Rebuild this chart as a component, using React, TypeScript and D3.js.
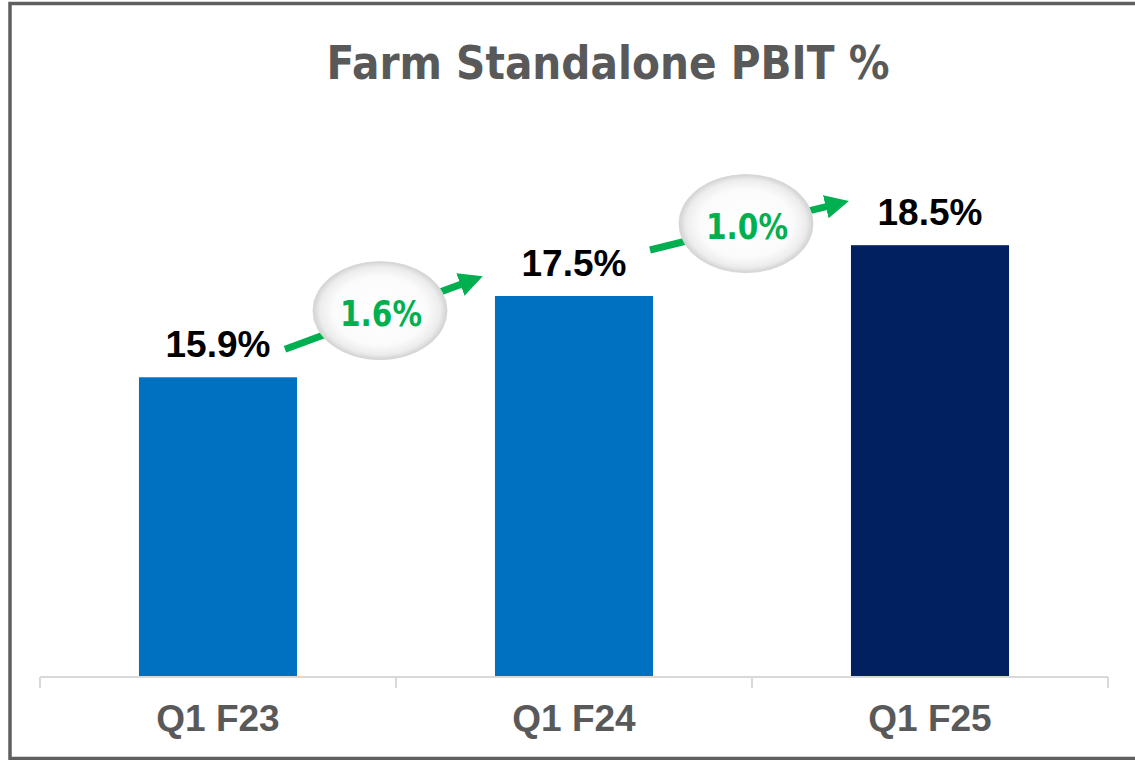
import React from "react";
import * as d3 from "d3";

const categories = ["Q1 F23", "Q1 F24", "Q1 F25"];
const values = [15.9, 17.5, 18.5];
const barColors = ["#0070C0", "#0070C0", "#002060"];
const title = "Farm Standalone PBIT %";
const yDomain = [10, 20];

const W = 1135;
const H = 760;

export default function App() {
  const x = d3.scaleBand<string>().domain(categories).range([40, 1108]).padding(0);
  const y = d3.scaleLinear().domain(yDomain).range([677, 169]);
  const barW = x.bandwidth() * 0.444;
  const cx = (c: string) => (x(c) as number) + x.bandwidth() / 2;
  const green = "#00B050";

  // arrows / callouts between consecutive bars
  const arrowSpecs = [
    { sx: 67, sy: -28, ex: -96, ey: -18, ox: -16, oy: -26 },
    { sx: 76, sy: -46, ex: -86, ey: -43, ox: -6, oy: -47 },
  ];

  const deltas = values.slice(1).map((v, i) => {
    const c0 = cx(categories[i]);
    const c1 = cx(categories[i + 1]);
    const y0 = y(values[i]);
    const y1 = y(values[i + 1]);
    const s = arrowSpecs[i];
    return {
      label: (v - values[i]).toFixed(1) + "%",
      x1: c0 + s.sx,
      y1: y0 + s.sy,
      x2: c1 + s.ex,
      y2: y1 + s.ey,
      ex: (c0 + c1) / 2 + s.ox,
      ey: (y0 + y1) / 2 + s.oy,
    };
  });

  const ticks = [...categories.map((c) => x(c) as number), 1108];

  return (
    <svg
      width={W}
      height={H}
      style={{ position: "absolute", left: 0, top: 0, background: "#fff" }}
    >
      <defs>
        <radialGradient id="ellG" cx="50%" cy="50%" r="50%">
          <stop offset="0%" stopColor="#ffffff" />
          <stop offset="70%" stopColor="#fbfbfb" />
          <stop offset="90%" stopColor="#ececec" />
          <stop offset="100%" stopColor="#d2d2d2" />
        </radialGradient>
        <marker
          id="arrowHead"
          viewBox="0 0 10 10"
          refX="2"
          refY="5"
          markerWidth="3.4"
          markerHeight="3.4"
          orient="auto"
          markerUnits="strokeWidth"
        >
          <path d="M0,0 L10,5 L0,10 z" fill={green} />
        </marker>
      </defs>
      <rect x={10} y={3.5} width={1140} height={755} fill="none" stroke="#5f5f5f" strokeWidth={3.5} />

      <text
        x={608}
        y={79}
        textAnchor="middle"
        fontFamily="'DejaVu Sans', sans-serif"
        fontWeight="bold"
        fontSize={47}
        fill="#595959"
        textLength={563}
        lengthAdjust="spacingAndGlyphs"
      >
        {title}
      </text>

      {categories.map((c, i) => (
        <rect
          key={c}
          x={cx(c) - barW / 2}
          y={y(values[i])}
          width={barW}
          height={y(yDomain[0]) - y(values[i])}
          fill={barColors[i]}
        />
      ))}

      <line x1={40} x2={1108} y1={677} y2={677} stroke="#d9d9d9" strokeWidth={2} />
      {ticks.map((t, i) => (
        <line key={i} x1={t} x2={t} y1={677} y2={688} stroke="#d9d9d9" strokeWidth={2} />
      ))}

      {categories.map((c, i) => (
        <text
          key={c}
          x={cx(c)}
          y={731}
          textAnchor="middle"
          fontFamily="'Liberation Sans', Arial, sans-serif"
          fontWeight="bold"
          fontSize={37}
          fill="#595959"
        >
          {c}
        </text>
      ))}

      {categories.map((c, i) => (
        <text
          key={c}
          x={cx(c)}
          y={y(values[i]) - 20}
          textAnchor="middle"
          fontFamily="'Liberation Sans', Arial, sans-serif"
          fontWeight="bold"
          fontSize={37}
          fill="#000000"
        >
          {values[i].toFixed(1) + "%"}
        </text>
      ))}

      {deltas.map((d, i) => (
        <g key={i}>
          <line
            x1={d.x1}
            y1={d.y1}
            x2={d.x2 - 14 * Math.cos(Math.atan2(d.y2 - d.y1, d.x2 - d.x1))}
            y2={d.y2 - 14 * Math.sin(Math.atan2(d.y2 - d.y1, d.x2 - d.x1))}
            stroke={green}
            strokeWidth={7}
            markerEnd="url(#arrowHead)"
          />
          <ellipse cx={d.ex} cy={d.ey} rx={67} ry={49} fill="url(#ellG)" stroke="#d8d8d8" strokeWidth={1} />
          <text
            x={d.ex + 1}
            y={d.ey + 15}
            textAnchor="middle"
            fontFamily="'DejaVu Sans', sans-serif"
            fontWeight="bold"
            fontSize={36}
            fill={green}
            textLength={82}
            lengthAdjust="spacingAndGlyphs"
          >
            {d.label}
          </text>
        </g>
      ))}
    </svg>
  );
}
